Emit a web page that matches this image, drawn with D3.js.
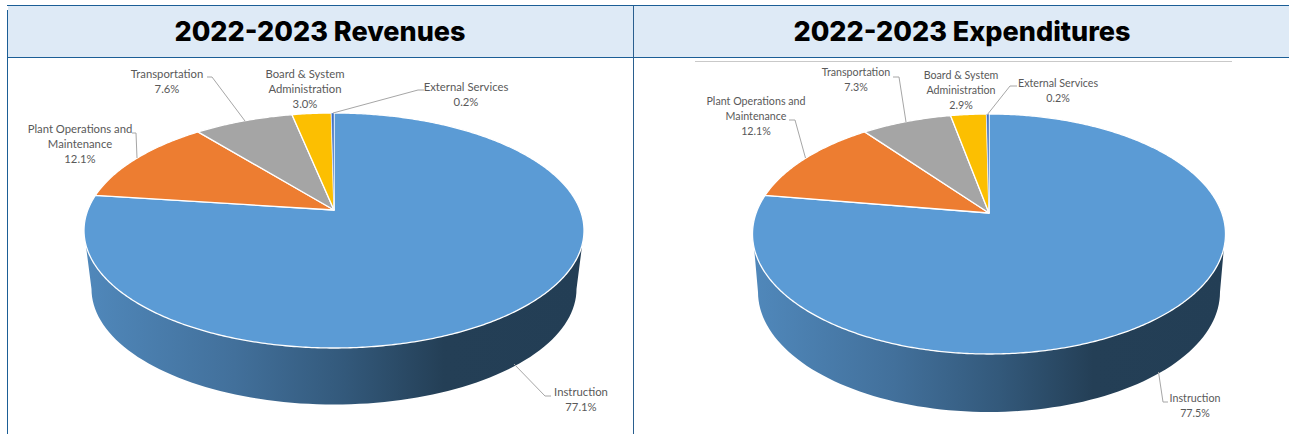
<!DOCTYPE html>
<html>
<head>
<meta charset="utf-8">
<script src="https://cdn.jsdelivr.net/npm/d3@7"></script>
<style>
  html, body { margin: 0; padding: 0; background: #fff; overflow: hidden; }
  text { font-family: Lato, "Open Sans", sans-serif; }
</style>
</head>
<body>
<div class="chart"></div>
<script>
var svgWidth = 1289;
var svgHeight = 434;

// values
var categories = ["Instruction", "Plant Operations and Maintenance", "Transportation", "Board & System Administration", "External Services"];
var revenueValues = [77.1, 12.1, 7.6, 3.0, 0.2];
var expenditureValues = [77.5, 12.1, 7.3, 2.9, 0.2];
var sliceColors = ["#5b9bd5", "#ed7d31", "#a5a5a5", "#fcbf01", "#3f6fc0"];
var labelLines = [["Instruction"], ["Plant Operations and", "Maintenance"], ["Transportation"], ["Board & System", "Administration"], ["External Services"]];

var svg = d3.select(".chart")
  .append("svg")
  .attr("width", svgWidth)
  .attr("height", svgHeight)
  .style("display", "block");

var defs = svg.append("defs");

// header bands and frame
var frameColor = "#1b5e96";
svg.append("rect").attr("x", 8).attr("y", 6).attr("width", 1281).attr("height", 51).attr("fill", "#deeaf6");
svg.append("line").attr("x1", 7).attr("x2", 1289).attr("y1", 5.5).attr("y2", 5.5).attr("stroke", frameColor);
svg.append("line").attr("x1", 7).attr("x2", 1289).attr("y1", 57.5).attr("y2", 57.5).attr("stroke", frameColor);
svg.append("line").attr("x1", 7.5).attr("x2", 7.5).attr("y1", 10).attr("y2", 434).attr("stroke", frameColor);
svg.append("line").attr("x1", 633.5).attr("x2", 633.5).attr("y1", 6).attr("y2", 434).attr("stroke", "#2a5f8f");
// stray chart border on the right panel
svg.append("line").attr("x1", 695).attr("x2", 1232).attr("y1", 61.5).attr("y2", 61.5).attr("stroke", "#c9c9c9");

function drawPanel(p) {
  var g = svg.append("g");

  g.append("text")
    .attr("x", p.titleX)
    .attr("y", 41)
    .attr("text-anchor", "middle")
    .style("font-family", "Inter, 'Noto Sans', sans-serif")
    .style("font-size", "27px")
    .style("font-weight", 800)
    .attr("fill", "#000")
    .text(p.title);

  // perspective: the pie disc is a circle seen from above, so the centre sits above the ellipse middle
  var up = p.apexY - p.topY;
  var down = p.botY - p.apexY;
  var persp = (down - up) / (down + up);
  var k = down * (1 - persp);
  var radius = p.rx * Math.sqrt(1 - persp * persp);
  var midY = (p.topY + p.botY) / 2;
  var ry = (p.botY - p.topY) / 2;

  function project(angle) {
    var u = Math.sin(angle);
    var v = -Math.cos(angle);
    var s = 1 / (1 - persp * v);
    return [p.cx + radius * u * s, p.apexY + k * v * s];
  }

  // side wall
  var gradId = "wall" + p.id;
  var grad = defs.append("linearGradient")
    .attr("id", gradId)
    .attr("gradientUnits", "userSpaceOnUse")
    .attr("x1", p.cx - p.rx).attr("x2", p.cx + p.rx)
    .attr("y1", 0).attr("y2", 0);
  grad.append("stop").attr("offset", "0%").attr("stop-color", "#5088bb");
  grad.append("stop").attr("offset", "30%").attr("stop-color", "#42709b");
  grad.append("stop").attr("offset", "52%").attr("stop-color", "#33597b");
  grad.append("stop").attr("offset", "72%").attr("stop-color", "#243f56");
  grad.append("stop").attr("offset", "100%").attr("stop-color", "#233e55");

  var wallTop = midY + (p.wallTopOffset);
  var topHalf = p.rx * Math.sqrt(1 - Math.pow((wallTop - midY) / ry, 2));
  var wallPts = [[p.cx - topHalf, wallTop]];
  d3.range(0, 181, 2).forEach(function(a) {
    var t = a * Math.PI / 180;
    wallPts.push([p.cx - p.wallRx * Math.cos(t), p.wallCy + p.wallRy * Math.sin(t)]);
  });
  wallPts.push([p.cx + topHalf, wallTop]);
  g.append("path")
    .attr("d", d3.line()(wallPts) + "Z")
    .attr("fill", "url(#" + gradId + ")");

  // top slices
  var pie = d3.pie().sort(null).value(function(d) { return d; });
  var arcs = pie(p.values);
  var sliceLine = d3.line();

  g.selectAll("path.slice")
    .data(arcs)
    .enter()
    .append("path")
    .attr("class", "slice")
    .attr("d", function(d) {
      var steps = Math.max(2, Math.ceil((d.endAngle - d.startAngle) / 0.01));
      var pts = [[p.cx, p.apexY]];
      d3.range(steps + 1).forEach(function(i) {
        pts.push(project(d.startAngle + (d.endAngle - d.startAngle) * i / steps));
      });
      return sliceLine(pts) + "Z";
    })
    .attr("fill", function(d, i) { return sliceColors[i]; })
    .attr("stroke", "#fff")
    .attr("stroke-width", function(d, i) { return i == 4 ? 0.4 : 1.3; })
    .attr("stroke-linejoin", "round");

  // labels + leader lines
  p.labels.forEach(function(l, i) {
    if (l.leader) {
      g.append("path")
        .attr("d", d3.line()(l.leader))
        .attr("fill", "none")
        .attr("stroke", "#a6a6a6")
        .attr("stroke-width", 1);
    }
    var rows = labelLines[i].concat([p.values[i].toFixed(1) + "%"]);
    var txt = g.append("text")
      .attr("text-anchor", "middle")
      .attr("fill", "#595959")
      .style("font-size", p.labelSize);
    rows.forEach(function(r, j) {
      txt.append("tspan")
        .attr("x", l.x)
        .attr("y", l.y + j * 14.8)
        .text(r);
    });
  });
}

drawPanel({
  id: "rev", title: "2022-2023 Revenues", titleX: 320, values: revenueValues,
  cx: 334, apexY: 210, topY: 113, botY: 348, rx: 250, labelSize: "11.3px",
  wallTopOffset: 14, wallCy: 289, wallRx: 242.5, wallRy: 115.5,
  labels: [
    { x: 581, y: 396, leader: [[551, 396], [545, 396], [514, 364]] },
    { x: 80, y: 133, leader: [[132, 133], [136, 133], [137, 158]] },
    { x: 167, y: 78, leader: [[207, 77], [212, 77], [245, 121]] },
    { x: 305, y: 78 },
    { x: 466, y: 91, leader: [[424, 90], [418, 90], [333, 113]] }
  ]
});

drawPanel({
  id: "exp", title: "2022-2023 Expenditures", titleX: 962, values: expenditureValues,
  cx: 989, apexY: 213, topY: 114, botY: 354, rx: 236.5, labelSize: "10.7px",
  wallTopOffset: 14, wallCy: 292, wallRx: 231, wallRy: 120,
  labels: [
    { x: 1195, y: 402, leader: [[1168, 402], [1163, 402], [1158.5, 372]] },
    { x: 756, y: 105, leader: [[789, 120], [795, 120], [805.5, 158]] },
    { x: 856, y: 76, leader: [[893, 77], [899, 77], [906, 122]] },
    { x: 961, y: 79 },
    { x: 1058, y: 87, leader: [[1017, 86], [1010, 86], [987, 115]] }
  ]
});
</script>
</body>
</html>
